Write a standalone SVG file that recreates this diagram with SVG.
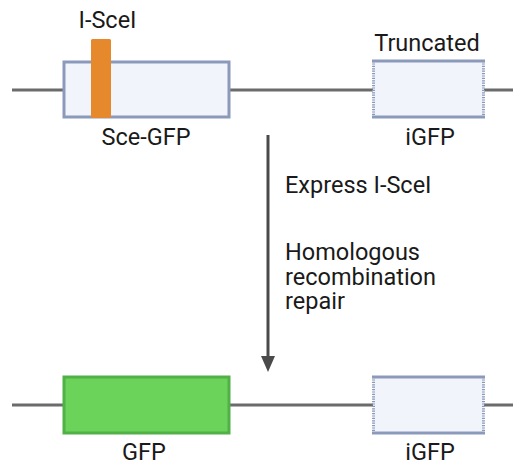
<svg xmlns="http://www.w3.org/2000/svg" width="513" height="464" viewBox="0 0 513 464">
<style>
text{font-family:Roboto,"Liberation Sans",sans-serif;font-size:23.5px;fill:#1a1a1a}
.dna{stroke:#6b6b6b;stroke-width:3;fill:none}
.box{fill:#f1f4fa;stroke:#8b9abb;stroke-width:3}
.tr{fill:#f1f4fa}
.trs{stroke:#8b9abb;stroke-width:3}
.trd{stroke:#8b9abb;stroke-width:3;stroke-dasharray:1.2 1.2}
</style>
<g id="connectors">
<line class="dna" x1="12" y1="90" x2="513" y2="90"/>
<line class="dna" x1="12" y1="405" x2="513" y2="405"/>
<path d="M268,135 V357" stroke="#4a4a4a" stroke-width="3"/>
<path d="M261,356 L275,356 L268,372 Z" fill="#4a4a4a"/>
</g>
<g id="sce-gfp">
<rect class="box" x="64" y="62" width="165" height="55"/>
<text x="146" y="145" text-anchor="middle">Sce-GFP</text>
</g>
<g id="i-scei">
<rect x="91" y="39" width="20" height="79" rx="1.5" fill="#e6892c"/>
<text x="107.5" y="28" text-anchor="middle">I-SceI</text>
</g>
<g id="igfp-top">
<rect class="tr" x="373" y="61" width="111" height="56"/>
<line class="trs" x1="372" y1="61" x2="485" y2="61"/>
<line class="trs" x1="372" y1="117" x2="485" y2="117"/>
<line class="trd" x1="373.5" y1="61" x2="373.5" y2="117"/>
<line class="trd" x1="483.5" y1="61" x2="483.5" y2="117"/>
<text x="427" y="51" text-anchor="middle">Truncated</text>
<text x="430" y="145" text-anchor="middle">iGFP</text>
</g>
<g id="label">
<text x="285" y="193">Express I-SceI</text>
<text x="285" y="260">Homologous</text>
<text x="285" y="285">recombination</text>
<text x="285" y="309">repair</text>
</g>
<g id="gfp">
<rect x="64" y="377" width="165" height="56" fill="#6bd35a" stroke="#51b046" stroke-width="3"/>
<text x="144" y="460" text-anchor="middle">GFP</text>
</g>
<g id="igfp-bottom">
<rect class="tr" x="373" y="377" width="111" height="56"/>
<line class="trs" x1="372" y1="377" x2="485" y2="377"/>
<line class="trs" x1="372" y1="433" x2="485" y2="433"/>
<line class="trd" x1="373.5" y1="377" x2="373.5" y2="433"/>
<line class="trd" x1="483.5" y1="377" x2="483.5" y2="433"/>
<text x="430" y="460" text-anchor="middle">iGFP</text>
</g>
</svg>
